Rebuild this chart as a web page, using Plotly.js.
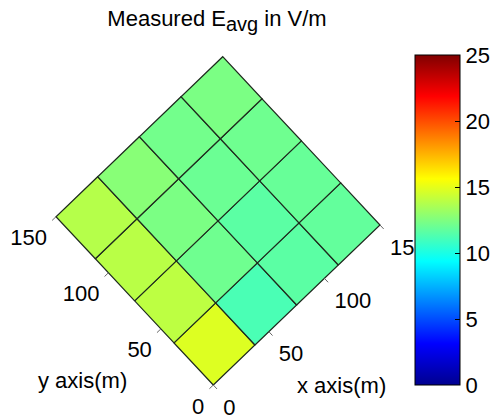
<!DOCTYPE html>
<html><head><meta charset="utf-8">
<script src="https://cdn.plot.ly/plotly-3.0.1.min.js"></script>
<style>html,body{margin:0;padding:0;background:#fff}</style>
</head><body><div id="chart" style="width:494px;height:418px"></div>
<script>
// ---- data ----
const xEdges = [0, 37.5, 75, 112.5, 150];
const yEdges = [0, 37.5, 75, 112.5, 150];
// Measured E_avg (V/m), rows by y cell (bottom→top in y), columns by x cell
const eRowY0 = [14.8, 11.2, 11.6, 11.8];
const eRowY1 = [14.0, 12.1, 11.6, 11.9];
const eRowY2 = [13.9, 12.4, 12.0, 12.1];
const eRowY3 = [13.8, 12.7, 12.2, 12.4];
const xTicks = [0, 50, 100, 150];
const yTicks = [0, 50, 100, 150];
const cbTicks = [0, 5, 10, 15, 20, 25];
const cMin = 0, cMax = 25;

// ---- view (top-down, rotated) ----
const ORIGIN = [213.3, 385];
const EX = [166.7 / 150, -160 / 150];
const EY = [-157.3 / 150, -168.3 / 150];
function P(X, Y) { return [ORIGIN[0] + X * EX[0] + Y * EY[0], ORIGIN[1] + X * EX[1] + Y * EY[1]]; }

const jet = [[0, 'rgb(0,0,143)'], [0.125, 'rgb(0,0,255)'], [0.375, 'rgb(0,255,255)'],
             [0.625, 'rgb(255,255,0)'], [0.875, 'rgb(255,0,0)'], [1, 'rgb(128,0,0)']];
function parse(c) { return c.match(/\d+/g).map(Number); }
function colorFor(v) {
  const t = Math.max(0, Math.min(1, (v - cMin) / (cMax - cMin)));
  for (let i = 1; i < jet.length; i++) {
    if (t <= jet[i][0]) {
      const a = parse(jet[i - 1][1]), b = parse(jet[i][1]);
      const f = (t - jet[i - 1][0]) / (jet[i][0] - jet[i - 1][0]);
      return 'rgb(' + a.map((ai, k) => Math.round(ai + (b[k] - ai) * f)).join(',') + ')';
    }
  }
  return jet[jet.length - 1][1];
}

const FONT = 'Liberation Sans, Arial, Helvetica, sans-serif';
const rows = [eRowY0, eRowY1, eRowY2, eRowY3];
const traces = [];

// cells
rows.forEach((row, j) => {
  row.forEach((v, i) => {
    const corners = [[xEdges[i], yEdges[j]], [xEdges[i + 1], yEdges[j]], [xEdges[i + 1], yEdges[j + 1]], [xEdges[i], yEdges[j + 1]], [xEdges[i], yEdges[j]]];
    const pts = corners.map(c => P(c[0], c[1]));
    traces.push({
      type: 'scatter', mode: 'lines', x: pts.map(p => p[0]), y: pts.map(p => p[1]),
      fill: 'toself', fillcolor: colorFor(v), line: { color: '#1e2a1e', width: 1.2 },
      hoverinfo: 'text', text: 'E = ' + v + ' V/m', showlegend: false
    });
  });
});

// tick marks
const TL = 3.5;
const tx = [], ty = [];
xTicks.forEach(t => { const a = P(t, 0), b = P(t, -TL); tx.push(a[0], b[0], null); ty.push(a[1], b[1], null); });
yTicks.forEach(t => { const a = P(0, t), b = P(-TL, t); tx.push(a[0], b[0], null); ty.push(a[1], b[1], null); });
traces.push({ type: 'scatter', mode: 'lines', x: tx, y: ty, line: { color: '#666', width: 1 }, hoverinfo: 'skip', showlegend: false });

// tick labels
traces.push({
  type: 'scatter', mode: 'text', cliponaxis: false,
  x: xTicks.map(t => P(t, 0)[0] + 10), y: xTicks.map(t => P(t, 0)[1] + 24),
  text: xTicks.map(String), textposition: 'middle right',
  textfont: { family: FONT, size: 22, color: '#000' }, hoverinfo: 'skip', showlegend: false
});
traces.push({
  type: 'scatter', mode: 'text', cliponaxis: false,
  x: yTicks.map(t => P(0, t)[0] - 9), y: yTicks.map(t => P(0, t)[1] + 23),
  text: yTicks.map(String), textposition: 'middle left',
  textfont: { family: FONT, size: 22, color: '#000' }, hoverinfo: 'skip', showlegend: false
});

// colorbar carrier
traces.push({
  type: 'scatter', mode: 'markers', x: [-50, -50], y: [-50, -50], hoverinfo: 'skip', showlegend: false,
  marker: {
    color: [cMin, cMax], cmin: cMin, cmax: cMax, colorscale: jet, showscale: true,
    colorbar: {
      x: 415 / 494, xanchor: 'left', xpad: 0, xref: 'container',
      y: 1 - 220 / 418, yanchor: 'middle', ypad: 0, yref: 'container',
      len: 330, lenmode: 'pixels', thickness: 45, thicknessmode: 'pixels',
      outlinewidth: 1, outlinecolor: '#000', tickvals: cbTicks, ticktext: cbTicks.map(String),
      ticks: 'inside', ticklen: 5, tickcolor: '#000', tickwidth: 1,
      tickfont: { family: FONT, size: 22, color: '#000' }
    }
  }
});

const layout = {
  width: 494, height: 418, margin: { l: 0, r: 0, t: 0, b: 0, pad: 0, autoexpand: false },
  paper_bgcolor: '#fff', plot_bgcolor: '#fff', showlegend: false,
  xaxis: { range: [0, 494], visible: false, fixedrange: true, automargin: false },
  yaxis: { range: [418, 0], visible: false, fixedrange: true, automargin: false },
  title: {
    text: 'Measured E<sub><span style="font-size:20px">avg</span></sub> in V/m',
    font: { family: FONT, size: 22, color: '#000' },
    x: 217 / 494, xanchor: 'center', xref: 'paper',
    y: 1 - 11 / 418, yanchor: 'top', yref: 'container'
  },
  annotations: [
    { text: 'y axis(m)', x: 82, y: 380, xref: 'x', yref: 'y', showarrow: false, xanchor: 'center', yanchor: 'middle', font: { family: FONT, size: 22, color: '#000' } },
    { text: 'x axis(m)', x: 341, y: 385, xref: 'x', yref: 'y', showarrow: false, xanchor: 'center', yanchor: 'middle', font: { family: FONT, size: 22, color: '#000' } }
  ]
};

Plotly.newPlot('chart', traces, layout, { displayModeBar: false, staticPlot: true });
</script></body></html>
